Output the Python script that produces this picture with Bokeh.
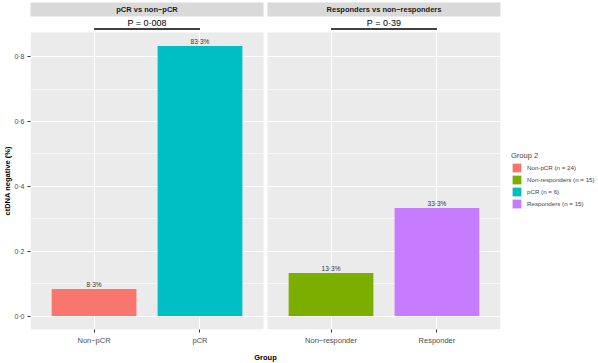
import math
from bokeh.plotting import figure
from bokeh.models import (FactorRange, Range1d, FixedTicker, CustomJSTickFormatter,
                          Title, Legend, LegendItem, ColumnDataSource)
from bokeh.embed import file_html
from bokeh.resources import INLINE
from bokeh.core.properties import value

# ---------------- data ----------------
panels = ["pCR vs non\u2212pCR", "Responders vs non\u2212responders"]
groups = ["Non\u2212pCR", "pCR", "Non\u2212responder", "Responder"]
group_panel = [panels[0], panels[0], panels[1], panels[1]]
share = [0.083, 0.833, 0.133, 0.333]
share_labels = ["8\u00b73%", "83\u00b73%", "13\u00b73%", "33\u00b73%"]
legend_labels = ["Non-pCR (n = 24)", "pCR (n = 6)", "Non-responders (n = 15)", "Responders (n = 15)"]
colors = ["#F8766D", "#00BFC4", "#7CAE00", "#C77CFF"]
p_values = ["P = 0\u00b7008", "P = 0\u00b739"]
y_ticks = [0.0, 0.2, 0.4, 0.6, 0.8]
y_minor = [0.1, 0.3, 0.5, 0.7]

FONT = "Liberation Sans"

factors = list(zip(group_panel, groups))

# ---------------- geometry ----------------
FRAME_W, FRAME_H = 470, 327
PANEL_PX = 297                 # height of the grey panel
TOP_PX = FRAME_H - PANEL_PX    # strip + p value space inside frame
y_lo = -0.05 * max(share)
y_hi = max(share) * 1.05
k = PANEL_PX / (y_hi - y_lo)
px = lambda d: d / k
y_end = y_hi + px(TOP_PX)

x_range = FactorRange(factors=factors, factor_padding=0.0, group_padding=0.237,
                      range_padding=0.1, range_padding_units="absolute")
p = figure(frame_width=FRAME_W, frame_height=FRAME_H, x_range=x_range,
           y_range=Range1d(y_lo, y_end), output_backend="svg",
           toolbar_location=None, title=None)
p.min_border = 0
p.min_border_right = 90
p.min_border_top = 2
p.min_border_bottom = 30
p.background_fill_color = "white"
p.border_fill_color = "white"
p.outline_line_color = None

# panel backgrounds
p.rect(x=panels, y=[(y_lo + y_hi) / 2] * 2, width=2.2, height=y_hi - y_lo,
       fill_color="#EBEBEB", line_color=None, level="image")
# strips
p.rect(x=panels, y=[y_end - px(7)] * 2, width=2.2, height=px(14),
       fill_color="#D9D9D9", line_color=None, level="overlay")
p.text(x=panels, y=[y_end - px(7)] * 2, text=panels, text_align="center",
       text_baseline="middle", text_font=value(FONT), text_font_size="7.5px",
       text_font_style="bold", text_color="#1A1A1A", level="overlay")

# grids
p.xgrid.grid_line_color = "white"
p.xgrid.grid_line_width = 1.1
p.ygrid.grid_line_color = "white"
p.ygrid.grid_line_width = 1.1
p.ygrid.minor_grid_line_color = "white"
p.ygrid.minor_grid_line_width = 0.55
ticker = FixedTicker(ticks=y_ticks, minor_ticks=y_minor)
p.yaxis.ticker = ticker
p.ygrid.ticker = ticker

# bars
src = ColumnDataSource(dict(x=factors, top=share, color=colors, lab=share_labels))
bars = p.vbar(x="x", top="top", width=0.8, source=src, fill_color="color",
              line_color=None)
p.text(x="x", y="top", text="lab", source=src, text_align="center",
       text_baseline="bottom", y_offset=-1, text_font=value(FONT),
       text_font_size="6.5px", text_color="#333333")

# p-value brackets
p.segment(x0=[factors[0], factors[2]], y0=[y_hi + px(3.5)] * 2,
          x1=[factors[1], factors[3]], y1=[y_hi + px(3.5)] * 2,
          line_color="black", line_width=1.6)
p.text(x=panels, y=[y_hi + px(4.5)] * 2, text=p_values, text_align="center",
       text_baseline="bottom", text_font=value(FONT), text_font_size="9px",
       text_color="black")

# axes
for ax in (p.xaxis, p.yaxis):
    ax.axis_line_color = None
    ax.major_tick_line_color = "#333333"
    ax.major_tick_out = 3
    ax.major_tick_in = 0
    ax.minor_tick_line_color = None
    ax.major_label_text_font = FONT
    ax.major_label_text_color = "#4D4D4D"
    ax.axis_label_text_font = FONT
p.yaxis.formatter = CustomJSTickFormatter(code="return tick.toFixed(1).replace('.', '\u00b7');")
p.yaxis.major_label_text_font_size = "7px"
p.yaxis.major_label_standoff = 2
p.yaxis.axis_label_standoff = 0
p.xaxis.major_label_text_font_size = "7.5px"
p.xaxis.major_label_standoff = 3
p.xaxis.group_text_font_size = "0px"
p.xaxis.separator_line_color = None
p.xaxis.axis_label = "Group"
p.xaxis.axis_label_text_font_size = "7.5px"
p.xaxis.axis_label_text_font_style = "bold"
p.xaxis.axis_label_text_color = "black"
p.xaxis.axis_label_standoff = 5

# y title aligned to the bottom of the frame and lifted so it centres on the panel
ytitle = Title(text="ctDNA negative (%)", align="left", offset=114,
               text_font=FONT, text_font_size="7.5px", text_font_style="bold",
               text_color="black", standoff=0)
p.add_layout(ytitle, "left")

# legend (alphabetical like ggplot)
order = sorted(range(len(legend_labels)), key=lambda i: legend_labels[i].lower())
items = [LegendItem(label=legend_labels[i], renderers=[bars], index=i) for i in order]
legend = Legend(items=items, location=(11, 120), title="Group 2",
                title_text_font=FONT, title_text_font_size="7.5px",
                title_text_font_style="normal", title_standoff=2,
                label_text_font=FONT, label_text_font_size="6.2px",
                label_standoff=5, glyph_width=11, glyph_height=11,
                label_height=11, spacing=1, padding=2, margin=0,
                border_line_color=None, background_fill_alpha=0)
p.add_layout(legend, "right")

open("out.html", "w").write(file_html(p, INLINE))
